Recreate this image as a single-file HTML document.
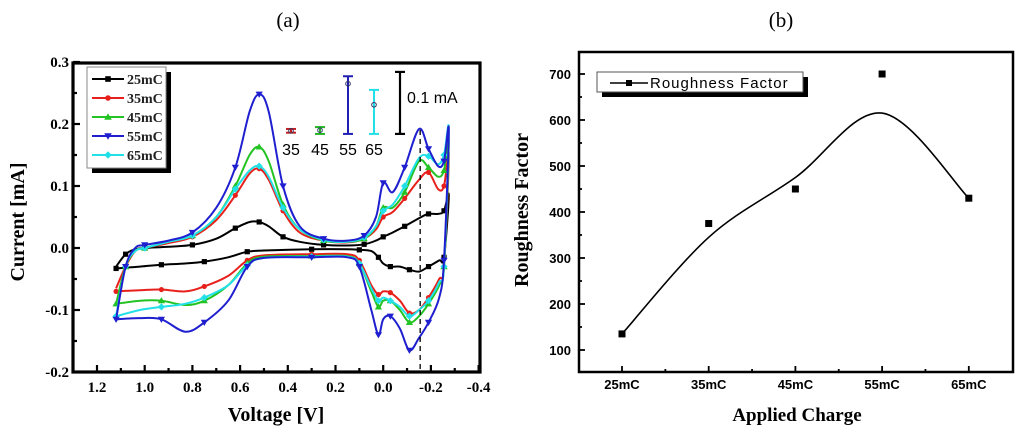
<!DOCTYPE html>
<html><head><meta charset="utf-8"><style>
body{margin:0;background:#fff}
svg{display:block}
.ser{font-family:"Liberation Serif",serif}
.san{font-family:"Liberation Sans",sans-serif}
</style></head><body>
<svg id="svg" width="1024" height="437" viewBox="0 0 1024 437">
<text class="ser" x="288" y="27" font-size="21" text-anchor="middle">(a)</text>
<text class="ser" x="781" y="27" font-size="21" text-anchor="middle">(b)</text>
<g id="cv"></g>
<g id="rf"></g>
</svg>
<script>
// ---- Chart (a) data ----
const upperV = [1.12,1.08,1.04,1.0,0.9,0.8,0.7,0.62,0.56,0.52,0.48,0.42,0.35,0.25,0.15,0.08,0.03,0.0,-0.04,-0.09,-0.15,-0.19,-0.23,-0.255,-0.275];
const lowerV = [-0.275,-0.255,-0.235,-0.19,-0.15,-0.11,-0.07,-0.03,0.0,0.02,0.05,0.1,0.15,0.3,0.5,0.57,0.65,0.75,0.83,0.93,1.02,1.12];
const seriesNames = ["25mC","35mC","45mC","55mC","65mC"];
const up25 = [-0.03,-0.01,-0.002,0.0,0.002,0.005,0.015,0.032,0.042,0.042,0.035,0.018,0.01,0.005,0.004,0.006,0.012,0.018,0.025,0.035,0.048,0.055,0.055,0.06,0.085];
const up35 = [-0.065,-0.03,-0.005,0.0,0.008,0.018,0.045,0.085,0.12,0.128,0.11,0.06,0.025,0.012,0.009,0.015,0.03,0.05,0.058,0.08,0.11,0.122,0.095,0.1,0.15];
const up45 = [-0.09,-0.03,-0.005,0.0,0.01,0.02,0.05,0.1,0.15,0.163,0.14,0.07,0.03,0.012,0.01,0.015,0.035,0.065,0.065,0.09,0.14,0.13,0.115,0.125,0.17];
const up55 = [-0.115,-0.03,0.0,0.005,0.012,0.025,0.065,0.13,0.22,0.248,0.22,0.1,0.035,0.015,0.012,0.02,0.05,0.105,0.09,0.13,0.192,0.16,0.132,0.14,0.19];
const up65 = [-0.11,-0.03,-0.005,0.0,0.01,0.02,0.05,0.095,0.125,0.132,0.115,0.065,0.03,0.013,0.01,0.017,0.035,0.06,0.07,0.1,0.145,0.148,0.135,0.15,0.19];
const lo25 = [0.085,-0.015,-0.02,-0.03,-0.038,-0.035,-0.03,-0.03,-0.025,-0.015,-0.005,-0.003,-0.002,-0.002,-0.004,-0.006,-0.015,-0.022,-0.025,-0.027,-0.03,-0.033];
const lo35 = [0.15,-0.03,-0.05,-0.08,-0.1,-0.105,-0.085,-0.072,-0.07,-0.075,-0.06,-0.02,-0.01,-0.01,-0.012,-0.02,-0.045,-0.062,-0.07,-0.067,-0.068,-0.07];
const lo45 = [0.17,-0.03,-0.06,-0.09,-0.11,-0.12,-0.1,-0.085,-0.085,-0.095,-0.07,-0.025,-0.013,-0.013,-0.014,-0.025,-0.06,-0.085,-0.092,-0.085,-0.085,-0.09];
const lo55 = [0.19,-0.02,-0.08,-0.12,-0.145,-0.165,-0.13,-0.11,-0.115,-0.14,-0.1,-0.03,-0.015,-0.015,-0.016,-0.03,-0.085,-0.12,-0.135,-0.115,-0.113,-0.115];
const lo65 = [0.19,-0.03,-0.055,-0.085,-0.1,-0.11,-0.095,-0.085,-0.08,-0.085,-0.065,-0.025,-0.014,-0.014,-0.016,-0.028,-0.06,-0.08,-0.09,-0.095,-0.1,-0.11];
const xTicksA = ["1.2","1.0","0.8","0.6","0.4","0.2","0.0","-0.2","-0.4"];
const yTicksA = ["0.3","0.2","0.1","0.0","-0.1","-0.2"];
const errLabels = ["35","45","55","65"];
const errTop = [0.192,0.195,0.277,0.255];
const errBottom = [0.186,0.184,0.184,0.184];
const errMark = [0.189,0.19,0.265,0.231];
const scaleTop = 0.284, scaleBottom = 0.184;
// ---- Chart (b) data ----
const charges = ["25mC","35mC","45mC","55mC","65mC"];
const roughness = [135,375,450,700,430];
const fitValues = [135,345,475,615,430];
const yTicksB = [100,200,300,400,500,600,700];

const NS="http://www.w3.org/2000/svg";
function mk(tag,attrs,parent){const e=document.createElementNS(NS,tag);for(const k in attrs)e.setAttribute(k,attrs[k]);parent.appendChild(e);return e;}
function smooth(pts){let d="M"+pts[0][0].toFixed(1)+","+pts[0][1].toFixed(1);for(let i=0;i<pts.length-1;i++){const p0=pts[i-1]||pts[i],p1=pts[i],p2=pts[i+1],p3=pts[i+2]||p2;const c1=[p1[0]+(p2[0]-p0[0])/6,p1[1]+(p2[1]-p0[1])/6],c2=[p2[0]-(p3[0]-p1[0])/6,p2[1]-(p3[1]-p1[1])/6];d+="C"+c1[0].toFixed(1)+","+c1[1].toFixed(1)+" "+c2[0].toFixed(1)+","+c2[1].toFixed(1)+" "+p2[0].toFixed(1)+","+p2[1].toFixed(1);}return d;}
function marker(g,type,x,y,c,s){
  let e;
  if(type==="sq"){e=mk("rect",{x:x-s,y:y-s,width:2*s,height:2*s,fill:c},g);}
  else if(type==="ci"){e=mk("circle",{cx:x,cy:y,r:s,fill:c},g);}
  else if(type==="tu"){e=mk("polygon",{points:`${x},${y-s-1} ${x-s-1},${y+s} ${x+s+1},${y+s}`,fill:c},g);}
  else if(type==="td"){e=mk("polygon",{points:`${x},${y+s+1} ${x-s-1},${y-s} ${x+s+1},${y-s}`,fill:c},g);}
  else {e=mk("polygon",{points:`${x},${y-s-1} ${x+s+1},${y} ${x},${y+s+1} ${x-s-1},${y}`,fill:c},g);}
  
  
  return e;
}

// ===== Chart (a) =====
(function(){
const g=document.getElementById("cv");
const L=73,R=480,T=63,B=372;
const xA=v=>97+(1.2-v)*238.5;
const yA=i=>248-i*620;
const colors=["#000","#e8201c","#22c322","#1f1fd0","#22e0e8"];
const mtypes=["sq","ci","tu","td","di"];
const ups=[up25,up35,up45,up55,up65], los=[lo25,lo35,lo45,lo55,lo65];
const order=[0,1,2,4,3];
order.forEach(k=>{
  const pts=upperV.map((v,i)=>[xA(v),yA(ups[k][i])]).concat(lowerV.slice(1).map((v,i)=>[xA(v),yA(los[k][i+1])]));
  const sg=mk("g",{},g);
  mk("path",{d:smooth(pts),fill:"none",stroke:colors[k],"stroke-width":2},sg);
  pts.forEach((p,i)=>{if(i%2===1)marker(sg,mtypes[k],p[0],p[1],colors[k],2.6);});
});
const dl=mk("line",{x1:xA(-0.155),x2:xA(-0.155),y1:130,y2:B,stroke:"#000","stroke-width":1.3,"stroke-dasharray":"5,4"},g);

const fr=mk("rect",{x:L,y:T,width:R-L,height:B-T,fill:"none",stroke:"#000","stroke-width":3.2},g);

for(let i=0;i<=16;i++){const v=1.2-i*0.1;const x=xA(v);mk("line",{x1:x,x2:x,y1:B,y2:B-(i%2===0?7:4),stroke:"#000","stroke-width":2.2},g);}
xTicksA.forEach((t,i)=>{const v=1.2-i*0.2;const e=mk("text",{x:xA(v),y:392,"font-size":15,"font-weight":"bold","text-anchor":"middle",class:"ser"},g);e.textContent=t;});
for(let i=0;i<=10;i++){const c=0.3-i*0.05;const y=yA(c);mk("line",{x1:L,x2:L+(i%2===0?7:4),y1:y,y2:y,stroke:"#000","stroke-width":2.2},g);}
yTicksA.forEach((t,i)=>{const c=0.3-i*0.1;const e=mk("text",{x:69,y:yA(c)+5,"font-size":15,"font-weight":"bold","text-anchor":"end",class:"ser"},g);e.textContent=t;});
let e=mk("text",{x:276,y:421,"font-size":20,"font-weight":"bold","text-anchor":"middle",class:"ser"},g);e.textContent="Voltage [V]";
e=mk("text",{x:0,y:0,"font-size":20,"font-weight":"bold","text-anchor":"middle",class:"ser",transform:"translate(24,222) rotate(-90)"},g);e.textContent="Current [mA]";
const lg=mk("g",{},g);
mk("rect",{x:92,y:72,width:79,height:101,fill:"#000"},lg);
mk("rect",{x:87,y:67,width:79,height:101,fill:"#fff",stroke:"#888","stroke-width":1},lg);
seriesNames.forEach((n,k)=>{const y=79+k*19;const eg=mk("g",{},lg);
  mk("line",{x1:92,x2:124,y1:y,y2:y,stroke:colors[k],"stroke-width":2},eg);marker(eg,mtypes[k],108,y,colors[k],2.8);
  const t=mk("text",{x:127,y:y+5,"font-size":14,"font-weight":"bold",class:"ser",fill:"#222"},eg);t.textContent=n;});
const ex=[291,320,348,374], ec=["#c02020","#22b322","#1f1fb0","#22e0e8"];
errLabels.forEach((lab,i)=>{const eg=mk("g",{},g);
  const y1=yA(errTop[i]), y2=yA(errBottom[i]);const x=ex[i];
  mk("line",{x1:x,x2:x,y1:y1,y2:y2,stroke:ec[i],"stroke-width":2},eg);
  mk("line",{x1:x-5,x2:x+5,y1:y1,y2:y1,stroke:ec[i],"stroke-width":2},eg);
  mk("line",{x1:x-5,x2:x+5,y1:y2,y2:y2,stroke:ec[i],"stroke-width":2},eg);
  mk("circle",{cx:x,cy:yA(errMark[i]),r:2.3,fill:"none",stroke:"#336","stroke-width":1},eg);
  const t=mk("text",{x:x,y:155,"font-size":16,"text-anchor":"middle",class:"san"},eg);t.textContent=lab;});
const sb=mk("g",{},g);
mk("line",{x1:400,x2:400,y1:yA(scaleTop),y2:yA(scaleBottom),stroke:"#000","stroke-width":2.2},sb);
mk("line",{x1:395,x2:405,y1:yA(scaleTop),y2:yA(scaleTop),stroke:"#000","stroke-width":2.2},sb);
mk("line",{x1:395,x2:405,y1:yA(scaleBottom),y2:yA(scaleBottom),stroke:"#000","stroke-width":2.2},sb);
e=mk("text",{x:407,y:103,"font-size":16,class:"san"},sb);e.textContent="0.1 mA";
})();

// ===== Chart (b) =====
(function(){
const g=document.getElementById("rf");
const L=579,R=1013,T=52,B=372;
const xB=i=>622+i*86.7;
const yB=v=>350-(v-100)*0.46;
const fit=fitValues.map((v,i)=>[xB(i),yB(v)]);
const p=mk("path",{d:smooth(fit),fill:"none",stroke:"#000","stroke-width":1.6},g);

roughness.forEach((v,i)=>{const r=mk("rect",{x:xB(i)-3.5,y:yB(v)-3.5,width:7,height:7,fill:"#000"},g);});
const fr=mk("rect",{x:L,y:T,width:R-L,height:B-T,fill:"none",stroke:"#000","stroke-width":2.5},g);

for(let k=0;k<=8;k++){const x=622+k*43.35;mk("line",{x1:x,x2:x,y1:B,y2:B-(k%2===0?6:3),stroke:"#000","stroke-width":1.8},g);}
charges.forEach((c,i)=>{const t=mk("text",{x:xB(i),y:389,"font-size":13,"font-weight":"bold","text-anchor":"middle",class:"san"},g);t.textContent=c;});
for(let v=50;v<=750;v+=50){const y=yB(v);if(y<T||y>B)continue;mk("line",{x1:L,x2:L+(v%100===0?6:3),y1:y,y2:y,stroke:"#000","stroke-width":1.8},g);}
yTicksB.forEach(v=>{const t=mk("text",{x:571,y:yB(v)+5,"font-size":13,"font-weight":"bold","text-anchor":"end",class:"san"},g);t.textContent=v;});
let e=mk("text",{x:797,y:421,"font-size":19,"font-weight":"bold","text-anchor":"middle",class:"ser"},g);e.textContent="Applied Charge";
e=mk("text",{x:0,y:0,"font-size":20,"font-weight":"bold","text-anchor":"middle",class:"ser",transform:"translate(528,210) rotate(-90)"},g);e.textContent="Roughness Factor";
const lg=mk("g",{},g);
mk("rect",{x:602,y:77,width:206,height:20,fill:"#000"},lg);
mk("rect",{x:597,y:72,width:206,height:20,fill:"#fff",stroke:"#555","stroke-width":1},lg);
mk("line",{x1:610,x2:648,y1:83,y2:83,stroke:"#000","stroke-width":1.6},lg);
mk("rect",{x:626,y:80,width:6,height:6,fill:"#000"},lg);
e=mk("text",{x:650,y:88,"font-size":15,class:"san","letter-spacing":"1"},lg);e.textContent="Roughness Factor";
})();
</script>
</body></html>
